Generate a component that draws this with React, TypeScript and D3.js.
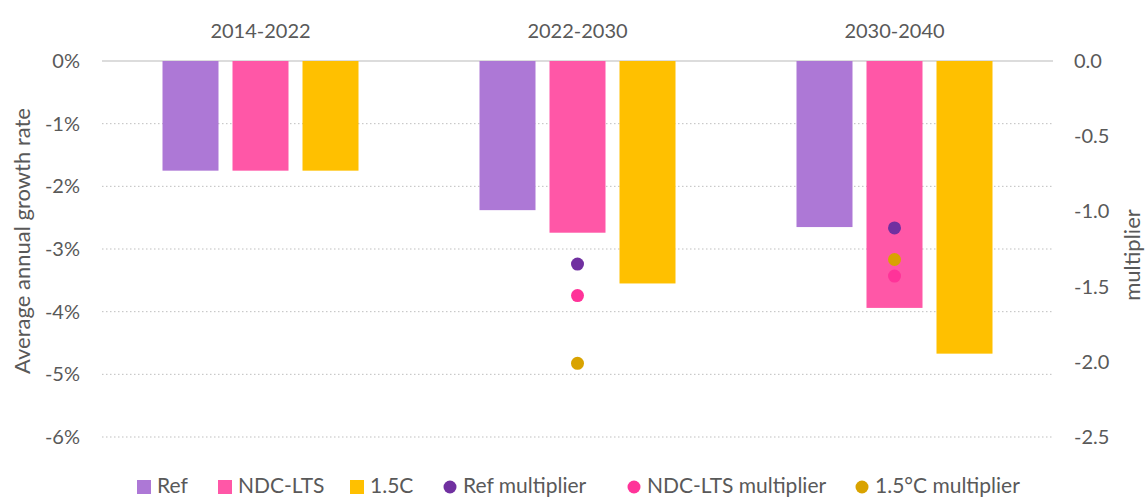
import { useEffect, useRef } from 'react'
import * as d3 from 'd3'

const periods = ['2014-2022', '2022-2030', '2030-2040']
const scenarios = ['Ref', 'NDC-LTS', '1.5C']
const refGrowth = [-1.75, -2.38, -2.65]
const ndcGrowth = [-1.75, -2.74, -3.94]
const c15Growth = [-1.75, -3.55, -4.67]
const multiplierNames = ['Ref multiplier', 'NDC-LTS multiplier', '1.5°C multiplier']
const refMult = [null, -1.35, -1.11]
const ndcMult = [null, -1.56, -1.43]
const c15Mult = [null, -2.01, -1.32]
const leftTicks = [0, -1, -2, -3, -4, -5, -6]
const rightTicks = [0, -0.5, -1, -1.5, -2, -2.5]

const barColors = ['#AD78D6', '#FF57A7', '#FFC000']
const dotColors = ['#7030A0', '#FF3399', '#D9A300']

const W = 1148
const H = 499
const FONT = 'Lato, "Open Sans", sans-serif'
const TXT = '#595959'

export default function App() {
  const svgRef = useRef<SVGSVGElement>(null)

  useEffect(() => {
    const svg = d3.select(svgRef.current!)
    svg.selectAll('*').remove()

    const margin = { top: 61, right: 95, bottom: 62, left: 102 }
    const innerW = W - margin.left - margin.right
    const innerH = H - margin.top - margin.bottom

    const x0 = d3.scaleBand<string>().domain(periods).range([0, innerW])
    const x1 = d3.scaleBand<string>().domain(scenarios).range([0, 196]).paddingInner(0.2)
    const yL = d3.scaleLinear().domain([0, -6]).range([0, innerH])
    const yR = d3.scaleLinear().domain([0, -2.5]).range([0, innerH])

    const g = svg.append('g').attr('transform', `translate(${margin.left},${margin.top})`)

    // Gridlines
    leftTicks.forEach(t => {
      g.append('line')
        .attr('x1', 0).attr('x2', innerW)
        .attr('y1', yL(t)).attr('y2', yL(t))
        .style('stroke', t === 0 ? '#d0d0d0' : '#bfbfbf')
        .style('stroke-width', t === 0 ? 1.5 : 1)
        .style('stroke-dasharray', t === 0 ? null : '1.5 2.5')
    })

    // Left axis labels
    const yLAxis = g.append('g').call(
      d3.axisLeft(yL).tickValues(leftTicks).tickSize(0).tickPadding(22).tickFormat(d => `${d}%`),
    )
    yLAxis.select('.domain').remove()
    yLAxis.selectAll('text').style('fill', TXT).style('font-size', '20px').style('font-family', FONT)

    // Right axis labels
    const yRAxis = g.append('g').attr('transform', `translate(${innerW},0)`).call(
      d3.axisRight(yR).tickValues(rightTicks).tickSize(0).tickPadding(21)
        .tickFormat(d => (+d).toFixed(1)),
    )
    yRAxis.select('.domain').remove()
    yRAxis.selectAll('text').style('fill', TXT).style('font-size', '20px').style('font-family', FONT)

    // Category labels on top
    periods.forEach(p => {
      g.append('text')
        .attr('x', x0(p)! + x0.bandwidth() / 2)
        .attr('y', -23)
        .attr('text-anchor', 'middle')
        .style('fill', TXT).style('font-size', '20px').style('font-family', FONT)
        .text(p)
    })

    // Axis titles
    svg.append('text')
      .attr('transform', `translate(30,241) rotate(-90)`)
      .attr('text-anchor', 'middle')
      .style('fill', TXT).style('font-size', '22px').style('font-family', FONT)
      .text('Average annual growth rate')
    svg.append('text')
      .attr('transform', `translate(1140,255) rotate(-90)`)
      .attr('text-anchor', 'middle')
      .style('fill', TXT).style('font-size', '22px').style('font-family', FONT)
      .text('multiplier')

    // Bars
    const growth = [refGrowth, ndcGrowth, c15Growth]
    periods.forEach((p, i) => {
      const gx = x0(p)! + (x0.bandwidth() - 196) / 2
      scenarios.forEach((s, j) => {
        const v = growth[j][i]
        g.append('rect')
          .attr('x', gx + x1(s)!)
          .attr('y', yL(0))
          .attr('width', x1.bandwidth())
          .attr('height', yL(v) - yL(0))
          .style('fill', barColors[j])
      })
    })

    // Multiplier dots
    const mult = [refMult, ndcMult, c15Mult]
    periods.forEach((p, i) => {
      const cx = x0(p)! + x0.bandwidth() / 2
      mult.forEach((series, j) => {
        const v = series[i]
        if (v == null) return
        g.append('circle')
          .attr('cx', cx)
          .attr('cy', yR(v))
          .attr('r', 6.5)
          .style('fill', dotColors[j])
      })
    })

    // Legend
    const legend = svg.append('g').attr('transform', `translate(0,493)`)
    const squareX = [137, 218, 350]
    scenarios.forEach((s, j) => {
      legend.append('rect')
        .attr('x', squareX[j]).attr('y', -13).attr('width', 14).attr('height', 14)
        .style('fill', barColors[j])
      legend.append('text')
        .attr('x', squareX[j] + 20).attr('y', 0)
        .style('fill', TXT).style('font-size', '21px').style('font-family', FONT)
        .text(s)
    })
    const dotX = [450, 634, 862]
    multiplierNames.forEach((s, j) => {
      legend.append('circle')
        .attr('cx', dotX[j]).attr('cy', -6).attr('r', 6.5)
        .style('fill', dotColors[j])
      legend.append('text')
        .attr('x', dotX[j] + 13).attr('y', 0)
        .style('fill', TXT).style('font-size', '21px').style('font-family', FONT)
        .text(s)
    })
  }, [])

  return (
    <div style={{ position: 'fixed', left: 0, top: 0, width: W, height: H, background: '#fff' }}>
      <svg ref={svgRef} width={W} height={H} />
    </div>
  )
}
